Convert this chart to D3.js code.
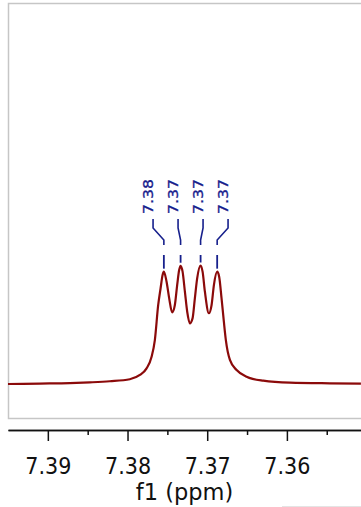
<!DOCTYPE html>
<html>
<head>
<meta charset="utf-8">
<script src="https://cdn.jsdelivr.net/npm/d3@7"></script>
<style>
  body { margin: 0; background: #fff; overflow: hidden; }
</style>
</head>
<body>
<div id="chart"></div>
<script>
// spectrum (ppm, intensity in % of tallest line)
var spectrumPpm = [7.3950, 7.3910, 7.38724, 7.38473, 7.38222, 7.37971, 7.37845, 7.37761, 7.37698, 7.37657,
  7.37615, 7.37585, 7.37560, 7.37544, 7.37510, 7.37477, 7.37440, 7.37406, 7.37377, 7.37352,
  7.37334, 7.37309, 7.37280, 7.37251, 7.37218, 7.37184, 7.37155, 7.37126, 7.37083, 7.37058,
  7.37029, 7.36979, 7.36945, 7.36916, 7.36875, 7.36850, 7.36820, 7.36791, 7.36766, 7.36715,
  7.36631, 7.36506, 7.36297, 7.35962, 7.35460, 7.35071];
var spectrumIntensity = [0, 0.4, 0.8, 1.4, 2.3, 4.0, 7.6, 13.2, 23.0, 37.1,
  66.7, 80.8, 92.0, 94.8, 86.3, 72.3, 60.5, 66.7, 83.5, 96.2,
  99.8, 94.8, 77.9, 61.0, 51.2, 55.4, 72.3, 89.2, 100, 94.8,
  77.9, 59.7, 66.7, 83.5, 94.8, 90.5, 72.3, 52.6, 37.1, 20.3,
  11.8, 6.2, 2.8, 1.1, 0.6, 0.4];

var peakPpm = [7.37544, 7.37334, 7.37083, 7.36875];
var peakLabels = ["7.38", "7.37", "7.37", "7.37"];

var majorTicks = [7.39, 7.38, 7.37, 7.36];
var minorTicks = [7.385, 7.375, 7.365, 7.355];
var axisTitle = "f1 (ppm)";

var width = 361, height = 507;
var spectrumColor = "#8b0a0a";
var labelColor = "#17208c";
var narrowFont = "'DejaVu Sans Condensed', 'DejaVu Sans', sans-serif";

var svg = d3.select("#chart").append("svg")
    .attr("width", width)
    .attr("height", height);

var x = d3.scaleLinear().domain([7.3950, 7.3507]).range([8, 361]);
var y = d3.scaleLinear().domain([0, 100]).range([384, 265.5]);

// grey plot frame
svg.append("rect")
    .attr("x", 8.5)
    .attr("y", 3.5)
    .attr("width", 400)
    .attr("height", 415)
    .attr("fill", "none")
    .attr("stroke", "#c6c6c6")
    .attr("stroke-width", 1.5);

svg.append("line")
    .attr("x1", 282).attr("x2", 361)
    .attr("y1", 506.5).attr("y2", 506.5)
    .attr("stroke", "#e4e4e4")
    .attr("stroke-width", 1);

var spectrum = spectrumPpm.map(function(p, i) { return {ppm: p, v: spectrumIntensity[i]}; });

var line = d3.line()
    .x(function(d) { return x(d.ppm); })
    .y(function(d) { return y(d.v); })
    .curve(d3.curveMonotoneX);

svg.append("path")
    .datum(spectrum)
    .attr("d", line)
    .attr("fill", "none")
    .attr("stroke", spectrumColor)
    .attr("stroke-width", 2.2)
    .attr("stroke-linejoin", "round");

// peak labels with connectors
var groupCenter = d3.mean(peakPpm, function(p) { return x(p); });

var peaks = svg.selectAll(".peak")
  .data(peakPpm.map(function(p, i) {
    var nearest = d3.least(spectrum, function(d) { return Math.abs(d.ppm - p); });
    return {ppm: p, label: peakLabels[i], top: y(nearest.v), lx: groupCenter + (i - 1.5) * 25};
  }))
  .enter().append("g")
    .attr("class", "peak");

peaks.append("path")
    .attr("d", function(d) {
      var px = x(d.ppm);
      return "M" + d.lx + ",219V228L" + px + ",240V245";
    })
    .attr("fill", "none")
    .attr("stroke", labelColor)
    .attr("stroke-width", 1.6);

peaks.append("line")
    .attr("x1", function(d) { return x(d.ppm); })
    .attr("x2", function(d) { return x(d.ppm); })
    .attr("y1", 255)
    .attr("y2", function(d) { return d.top - 3; })
    .attr("stroke", labelColor)
    .attr("stroke-width", 1.8);

peaks.append("text")
    .attr("transform", function(d) { return "translate(" + (d.lx - 0.5) + ",214) rotate(-90) scale(1.12,1)"; })
    .style("font-family", "'DejaVu Sans', sans-serif")
    .style("font-size", "14px")
    .attr("fill", labelColor)
    .attr("stroke", labelColor)
    .attr("stroke-width", 0.3)
    .text(function(d) { return d.label; });

// x axis
var axisG = svg.append("g")
    .attr("transform", "translate(0,430)");

axisG.call(d3.axisBottom(x)
    .tickValues(majorTicks)
    .tickSize(11)
    .tickSizeOuter(0)
    .tickPadding(16.5)
    .tickFormat(d3.format(".2f")));

axisG.append("g").call(d3.axisBottom(x)
    .tickValues(minorTicks)
    .tickSize(5)
    .tickSizeOuter(0)
    .tickFormat(""));

axisG.selectAll("path, line")
    .attr("stroke", "#111")
    .attr("stroke-width", 1.5);

axisG.selectAll("text")
    .style("font-family", narrowFont)
    .style("font-size", "23px")
    .attr("fill", "#111");

svg.append("text")
    .attr("x", 184.5)
    .attr("y", 500)
    .attr("text-anchor", "middle")
    .style("font-family", "'DejaVu Sans', sans-serif")
    .style("font-size", "22.5px")
    .attr("fill", "#111")
    .text(axisTitle);
</script>
</body>
</html>
